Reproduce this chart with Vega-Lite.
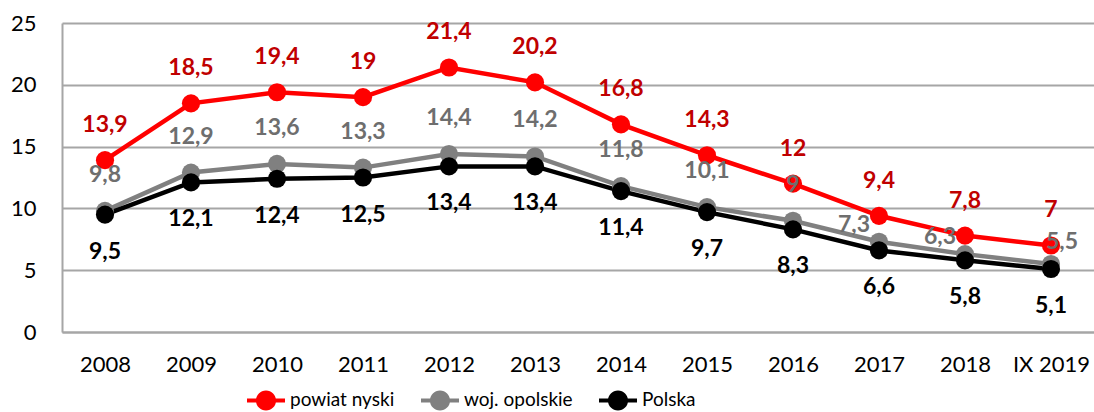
{
  "$schema": "https://vega.github.io/schema/vega-lite/v6.json",
  "width": 1032,
  "height": 309,
  "autosize": "none",
  "padding": {"left": 62, "top": 23, "right": 0, "bottom": 80},
  "background": "white",
  "config": {
    "view": {"stroke": null},
    "font": "Lato",
    "locale": {"number": {"decimal": ",", "thousands": " ", "grouping": [3], "currency": ["", " zł"]}}
  },
  "data": {
    "values": [
      {"year": "2008", "series": "woj. opolskie", "value": 9.8},
      {"year": "2009", "series": "woj. opolskie", "value": 12.9},
      {"year": "2010", "series": "woj. opolskie", "value": 13.6},
      {"year": "2011", "series": "woj. opolskie", "value": 13.3},
      {"year": "2012", "series": "woj. opolskie", "value": 14.4},
      {"year": "2013", "series": "woj. opolskie", "value": 14.2},
      {"year": "2014", "series": "woj. opolskie", "value": 11.8},
      {"year": "2015", "series": "woj. opolskie", "value": 10.1},
      {"year": "2016", "series": "woj. opolskie", "value": 9},
      {"year": "2017", "series": "woj. opolskie", "value": 7.3},
      {"year": "2018", "series": "woj. opolskie", "value": 6.3},
      {"year": "IX 2019", "series": "woj. opolskie", "value": 5.5},
      {"year": "2008", "series": "Polska", "value": 9.5},
      {"year": "2009", "series": "Polska", "value": 12.1},
      {"year": "2010", "series": "Polska", "value": 12.4},
      {"year": "2011", "series": "Polska", "value": 12.5},
      {"year": "2012", "series": "Polska", "value": 13.4},
      {"year": "2013", "series": "Polska", "value": 13.4},
      {"year": "2014", "series": "Polska", "value": 11.4},
      {"year": "2015", "series": "Polska", "value": 9.7},
      {"year": "2016", "series": "Polska", "value": 8.3},
      {"year": "2017", "series": "Polska", "value": 6.6},
      {"year": "2018", "series": "Polska", "value": 5.8},
      {"year": "IX 2019", "series": "Polska", "value": 5.1},
      {"year": "2008", "series": "powiat nyski", "value": 13.9},
      {"year": "2009", "series": "powiat nyski", "value": 18.5},
      {"year": "2010", "series": "powiat nyski", "value": 19.4},
      {"year": "2011", "series": "powiat nyski", "value": 19},
      {"year": "2012", "series": "powiat nyski", "value": 21.4},
      {"year": "2013", "series": "powiat nyski", "value": 20.2},
      {"year": "2014", "series": "powiat nyski", "value": 16.8},
      {"year": "2015", "series": "powiat nyski", "value": 14.3},
      {"year": "2016", "series": "powiat nyski", "value": 12},
      {"year": "2017", "series": "powiat nyski", "value": 9.4},
      {"year": "2018", "series": "powiat nyski", "value": 7.8},
      {"year": "IX 2019", "series": "powiat nyski", "value": 7}
    ]
  },
  "encoding": {
    "x": {
      "field": "year", "type": "nominal",
      "sort": ["2008","2009","2010","2011","2012","2013","2014","2015","2016","2017","2018","IX 2019"],
      "scale": {"type": "point", "padding": 0.5},
      "axis": {"title": null, "labelAngle": 0, "ticks": false, "domainColor": "#a6a6a6", "domainWidth": 2, "labelFontSize": 22, "labelColor": "#000000", "labelPadding": 22, "grid": false}
    },
    "y": {
      "field": "value", "type": "quantitative",
      "scale": {"domain": [0, 25], "nice": false},
      "axis": {"title": null, "values": [0,5,10,15,20,25], "ticks": false, "domainColor": "#a6a6a6", "domainWidth": 2, "grid": true, "gridColor": "#a6a6a6", "gridWidth": 2, "labelFontSize": 22, "labelColor": "#000000", "labelPadding": 26}
    },
    "color": {
      "field": "series", "type": "nominal",
      "scale": {"domain": ["powiat nyski", "woj. opolskie", "Polska"], "range": ["#ff0000", "#808080", "#000000"]},
      "legend": {
        "title": null, "orient": "none", "legendX": 185, "legendY": 358,
        "direction": "horizontal", "columns": 3,
        "symbolType": "M-1,-0.11H1V0.11H-1Z M-0.53,0A0.53,0.53 0 1,1 0.53,0A0.53,0.53 0 1,1 -0.53,0Z",
        "symbolSize": 1444, "symbolStrokeWidth": 0, "symbolOpacity": 1,
        "labelFontSize": 19, "labelColor": "#000000", "labelOffset": 5, "columnPadding": 26
      }
    }
  },
  "layer": [
    {
      "mark": {"type": "line", "strokeWidth": 4.5},
      "encoding": {"detail": {"field": "series"}}
    },
    {
      "mark": {"type": "point", "filled": true, "size": 330, "opacity": 1},
      "encoding": {}
    },
    {
      "transform": [{"filter": "datum.series === 'powiat nyski'"}],
      "mark": {"type": "text", "dy": -35, "baseline": "middle", "fontWeight": "bold", "fontSize": 23},
      "encoding": {"text": {"field": "value", "type": "quantitative", "format": ".1~f"}, "color": {"value": "#c00000"}}
    },
    {
      "transform": [{"filter": "datum.series === 'woj. opolskie' && datum.year !== '2017' && datum.year !== '2018' && datum.year !== 'IX 2019'"}],
      "mark": {"type": "text", "dy": -36, "baseline": "middle", "fontWeight": "bold", "fontSize": 23},
      "encoding": {"text": {"field": "value", "type": "quantitative", "format": ".1~f"}, "color": {"value": "#6e6e6e"}}
    },
    {
      "transform": [{"filter": "datum.series === 'woj. opolskie' && (datum.year === '2017' || datum.year === '2018')"}],
      "mark": {"type": "text", "dx": -25, "dy": -17, "baseline": "middle", "fontWeight": "bold", "fontSize": 23},
      "encoding": {"text": {"field": "value", "type": "quantitative", "format": ".1~f"}, "color": {"value": "#6e6e6e"}}
    },
    {
      "transform": [{"filter": "datum.series === 'woj. opolskie' && datum.year === 'IX 2019'"}],
      "mark": {"type": "text", "dx": 11, "dy": -22, "baseline": "middle", "fontWeight": "bold", "fontSize": 23},
      "encoding": {"text": {"field": "value", "type": "quantitative", "format": ".1~f"}, "color": {"value": "#6e6e6e"}}
    },
    {
      "transform": [{"filter": "datum.series === 'Polska'"}],
      "mark": {"type": "text", "dy": 37, "baseline": "middle", "fontWeight": "bold", "fontSize": 23},
      "encoding": {"text": {"field": "value", "type": "quantitative", "format": ".1~f"}, "color": {"value": "#000000"}}
    }
  ]
}
